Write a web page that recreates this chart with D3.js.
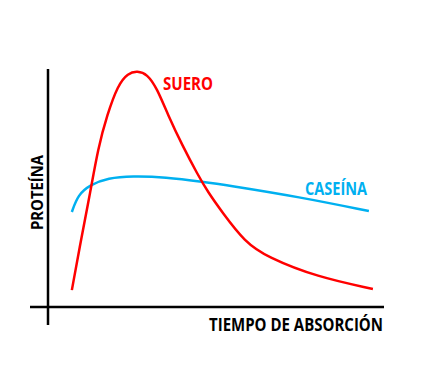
<!DOCTYPE html>
<html>
<head>
<meta charset="utf-8">
<script src="https://cdn.jsdelivr.net/npm/d3@7"></script>
<style>
  body { margin: 0; background: #fff; }
  text { font-family: "Open Sans", sans-serif; font-weight: bold; }
</style>
</head>
<body>
<div id="chart"></div>
<script>
// tiempo (x) y nivel de proteína (y), unidades arbitrarias 0-10
var sueroX = [0.71, 1.01, 1.25, 1.49, 1.76, 2.08, 2.38, 2.66, 2.95, 3.24, 3.57, 3.99, 4.46, 4.76, 5.18, 5.86, 6.52, 8.01, 9.67];
var sueroY = [0.71, 3.03, 4.75, 6.68, 8.07, 9.33, 9.83, 9.92, 9.79, 9.20, 8.07, 6.81, 5.55, 4.83, 3.99, 2.73, 2.10, 1.26, 0.76];

var caseinaX = [0.71, 0.89, 1.25, 1.79, 2.50, 3.48, 4.67, 5.27, 7.50, 9.55];
var caseinaY = [3.99, 4.71, 5.13, 5.42, 5.50, 5.46, 5.25, 5.13, 4.62, 4.03];

var seriesNames = ["SUERO", "CASEÍNA"];
var xTitle = "TIEMPO DE ABSORCIÓN";
var yTitle = "PROTEÍNA";

var W = 424, H = 367;

var x = d3.scaleLinear().domain([0, 10]).range([48, 384]);
var y = d3.scaleLinear().domain([0, 10]).range([307, 69]);

var svg = d3.select("#chart")
    .append("svg")
    .attr("width", W)
    .attr("height", H);

// ejes
svg.append("line")
    .attr("x1", x(0) - 18).attr("x2", x(10))
    .attr("y1", y(0)).attr("y2", y(0))
    .attr("stroke", "#000").attr("stroke-width", 2.5);

svg.append("line")
    .attr("x1", x(0)).attr("x2", x(0))
    .attr("y1", y(10)).attr("y2", y(0) + 18)
    .attr("stroke", "#000").attr("stroke-width", 2.5);

var line = d3.line()
    .x(d => x(d[0]))
    .y(d => y(d[1]))
    .curve(d3.curveBasis);

var suero = sueroX.map((v, i) => [v, sueroY[i]]);
var caseina = caseinaX.map((v, i) => [v, caseinaY[i]]);

svg.append("path")
    .datum(caseina)
    .attr("d", line)
    .attr("fill", "none")
    .attr("stroke", "#00B0F0")
    .attr("stroke-width", 2.5);

svg.append("path")
    .datum(suero)
    .attr("d", line)
    .attr("fill", "none")
    .attr("stroke", "#FF0000")
    .attr("stroke-width", 2.5);

// etiquetas
function label(txt, px, py, len, color, anchor) {
    return svg.append("text")
        .attr("x", px).attr("y", py)
        .attr("text-anchor", anchor || "start")
        .attr("fill", color)
        .attr("textLength", len)
        .attr("lengthAdjust", "spacingAndGlyphs")
        .style("font-size", "17px")
        .text(txt);
}

label(seriesNames[0], 163, 90, 50, "#FF0000");
label(seriesNames[1], 305, 195, 62, "#00B0F0");
label(xTitle, 209, 331, 174, "#000");

svg.append("text")
    .attr("transform", "translate(43,230) rotate(-90)")
    .attr("fill", "#000")
    .attr("textLength", 75)
    .attr("lengthAdjust", "spacingAndGlyphs")
    .style("font-size", "16px")
    .text(yTitle);
</script>
</body>
</html>
